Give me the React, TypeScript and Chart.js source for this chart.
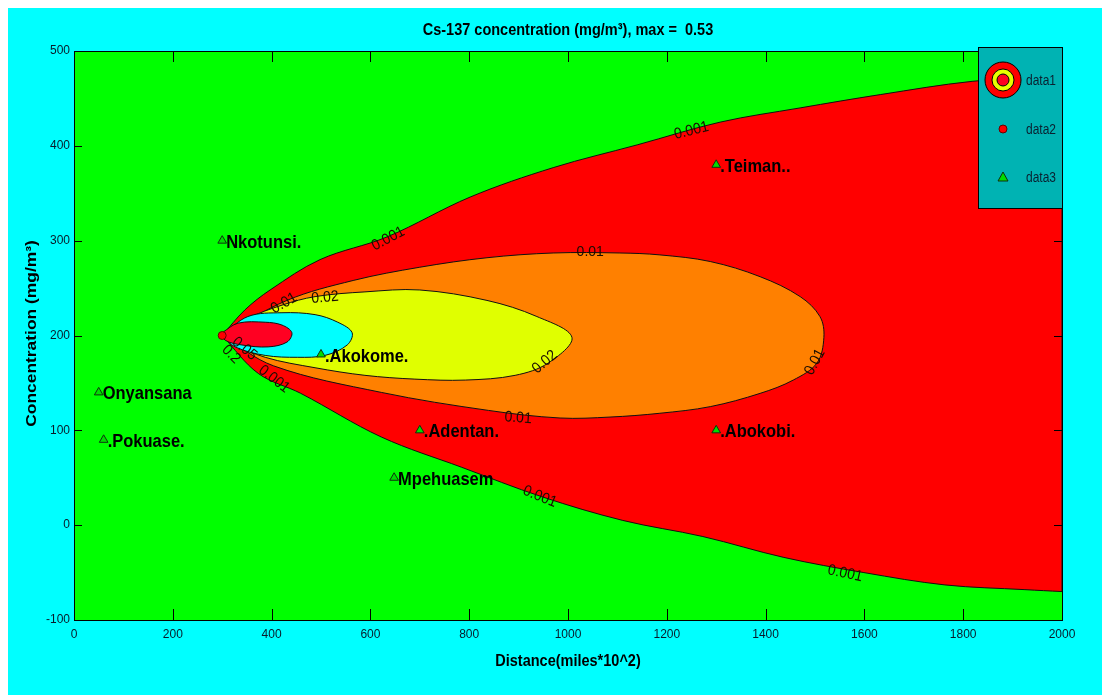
import React, { useEffect, useRef } from "react";
import { Chart, registerables } from "chart.js";
Chart.register(...registerables);

// ---- axis ticks ----
const xTickValues = [0, 200, 400, 600, 800, 1000, 1200, 1400, 1600, 1800, 2000];
const yTickValues = [-100, 0, 100, 200, 300, 400, 500];

// ---- contour 0.001 (outer red plume); corners at the right edge are repeated to keep them sharp ----
const c001X = [300, 346, 397, 498, 634, 802, 970, 1140, 1308, 1470, 1632, 1818, 2000, 2000, 2000, 2000, 1925, 1763, 1599, 1437, 1273, 1111, 947, 785, 622, 459, 373, 300];
const c001Y = [200, 227, 248, 280, 304, 346, 377, 401, 425, 440, 454, 468, 474, 474, -70, -70, -68, -63, -50, -34, -12, 5, 30, 61, 93, 139, 160, 200];

// ---- contour 0.01 (orange) ----
const c01X = [300, 431, 565, 700, 836, 970, 1105, 1186, 1288, 1389, 1470, 1510, 1518, 1504, 1456, 1389, 1288, 1186, 1085, 984, 839, 622, 404, 300];
const c01Y = [200, 237, 258, 272, 282, 287, 287, 285, 278, 262, 241, 220, 198, 171, 153, 139, 125, 118, 114, 113, 121, 140, 168, 200];

// ---- contour 0.02 (yellow) ----
const c02X = [300, 352, 421, 488, 589, 700, 836, 937, 1008, 960, 893, 792, 690, 589, 488, 387, 320, 300];
const c02Y = [200, 218, 232, 241, 246, 248, 237, 220, 198, 171, 158, 153, 154, 158, 166, 177, 192, 200];

// ---- contour 0.05 (cyan) ----
const c05X = [300, 352, 421, 488, 534, 563, 553, 508, 453, 387, 326, 300];
const c05Y = [200, 220, 224, 222, 214, 203, 190, 179, 177, 179, 188, 200];

// ---- contour 0.2 (inner red) ----
const c2X = [300, 332, 387, 421, 441, 431, 393, 340, 306, 300];
const c2Y = [203, 213, 214, 211, 203, 193, 188, 190, 195, 203];

// ---- release point (data2) ----
const sourceX = [300];
const sourceY = [200];

// ---- receptor stations (data3) ----
const stationNames = ["Nkotunsi.", ".Akokome.", "Onyansana", ".Pokuase.", ".Adentan.", "Mpehuasem", ".Abokobi.", ".Teiman.."];
const stationX = [300, 500, 50, 60, 700, 648, 1300, 1300];
const stationY = [300, 180, 140, 90, 100, 50, 100, 380];

// ---- contour labels ----
const contourLabelText = ["0.001", "0.001", "0.01", "0.02", "0.01", "0.02", "0.01", "0.01", "0.001", "0.001", "0.001", "0.05", "0.2"];
const contourLabelX = [636, 1250, 1045, 508, 425, 953, 899, 1500, 943, 1561, 405, 345, 318];
const contourLabelY = [302, 416, 288, 240, 234, 172, 113, 172, 30, -51, 154, 186, 180];
const contourLabelAngle = [-28, -14, 0, -5, -30, -40, 4, -62, 22, 12, 38, 40, 45];

const legendLabels = ["data1", "data2", "data3"];

const titleText = "Cs-137 concentration (mg/m³), max =  0.53";
const xTitle = "Distance(miles*10^2)";
const yTitle = "Concentration (mg/m³)";

const pts = (xs: number[], ys: number[]) => xs.map((x, i) => ({ x, y: ys[i] }));

function stretchText(ctx: CanvasRenderingContext2D, text: string, x: number, y: number, sy: number, align: CanvasTextAlign, font: string, color: string) {
  ctx.save();
  ctx.translate(x, y);
  ctx.scale(1, sy);
  ctx.font = font;
  ctx.fillStyle = color;
  ctx.textAlign = align;
  ctx.textBaseline = "middle";
  ctx.fillText(text, 0, 0);
  ctx.restore();
}

const decorPlugin = {
  id: "decor",
  beforeDraw(chart: any) {
    const { ctx, width, height, chartArea: a } = chart;
    ctx.save();
    ctx.fillStyle = "#00FFFF";
    ctx.fillRect(0, 0, width, height);
    ctx.fillStyle = "#00FF00";
    ctx.fillRect(a.left, a.top, a.right - a.left, a.bottom - a.top);
    ctx.restore();
  },
  afterDatasetsDraw(chart: any) {
    const { ctx, chartArea: a, scales } = chart;
    const xs = scales.x, ys = scales.y;
    // contour labels
    ctx.save();
    ctx.beginPath();
    ctx.rect(a.left, a.top, a.right - a.left, a.bottom - a.top);
    ctx.clip();
    ctx.font = "14px 'Liberation Sans', Arial, sans-serif";
    ctx.fillStyle = "#1a0d00";
    ctx.textAlign = "center";
    ctx.textBaseline = "middle";
    contourLabelText.forEach((t, i) => {
      const px = xs.getPixelForValue(contourLabelX[i]);
      const py = ys.getPixelForValue(contourLabelY[i]);
      ctx.save();
      ctx.translate(px, py);
      ctx.rotate((contourLabelAngle[i] * Math.PI) / 180);
      ctx.scale(1, 1.1);
      ctx.fillText(t, 0, 0);
      ctx.restore();
    });
    ctx.restore();

    // station labels
    stationNames.forEach((n, i) => {
      const px = xs.getPixelForValue(stationX[i]);
      const py = ys.getPixelForValue(stationY[i]);
      stretchText(ctx, n, px + 4, py + 2, 1.12, "left", "bold 16.5px 'Liberation Sans', Arial, sans-serif", "#000");
    });

    // axes box and inward ticks
    ctx.save();
    ctx.strokeStyle = "#000";
    ctx.lineWidth = 1;
    ctx.beginPath();
    xTickValues.forEach((v) => {
      const px = Math.round(xs.getPixelForValue(v)) + 0.5;
      ctx.moveTo(px, a.bottom);
      ctx.lineTo(px, a.bottom - 11);
      ctx.moveTo(px, a.top);
      ctx.lineTo(px, a.top + 11);
    });
    yTickValues.forEach((v) => {
      const py = Math.round(ys.getPixelForValue(v)) + 0.5;
      ctx.moveTo(a.left, py);
      ctx.lineTo(a.left + 8, py);
      ctx.moveTo(a.right, py);
      ctx.lineTo(a.right - 8, py);
    });
    ctx.stroke();
    ctx.strokeRect(Math.round(a.left) + 0.5, Math.round(a.top) + 0.5, Math.round(a.right - a.left), Math.round(a.bottom - a.top));
    ctx.restore();

    // legend
    const lx = 970, ly = 39, lw = 84, lh = 161;
    ctx.save();
    ctx.fillStyle = "#00B3B3";
    ctx.fillRect(lx, ly, lw, lh);
    ctx.strokeStyle = "#000";
    ctx.lineWidth = 1;
    ctx.strokeRect(lx + 0.5, ly + 0.5, lw, lh);
    const sx = 995;
    const rowY = [72, 121, 169];
    const circ = (r: number, c: string) => {
      ctx.beginPath();
      ctx.arc(sx, rowY[0], r, 0, Math.PI * 2);
      ctx.fillStyle = c;
      ctx.fill();
      ctx.stroke();
    };
    circ(18, "#FF0000");
    circ(11, "#E8FF00");
    circ(6, "#FF0022");
    ctx.beginPath();
    ctx.arc(sx, rowY[1], 4, 0, Math.PI * 2);
    ctx.fillStyle = "#FF0000";
    ctx.fill();
    ctx.strokeStyle = "#600";
    ctx.stroke();
    ctx.beginPath();
    ctx.moveTo(sx, rowY[2] - 5);
    ctx.lineTo(sx + 5, rowY[2] + 4);
    ctx.lineTo(sx - 5, rowY[2] + 4);
    ctx.closePath();
    ctx.fillStyle = "#00DD00";
    ctx.fill();
    ctx.strokeStyle = "#103010";
    ctx.stroke();
    legendLabels.forEach((t, i) => {
      stretchText(ctx, t, 1018, rowY[i] + 1, 1.15, "left", "12px 'Liberation Sans', Arial, sans-serif", "#0a2030");
    });
    ctx.restore();

    // titles
    const cx = (a.left + a.right) / 2;
    stretchText(ctx, titleText, cx, 22, 1.2, "center", "bold 14.5px 'Liberation Sans', Arial, sans-serif", "#000");
    stretchText(ctx, xTitle, cx, 653, 1.2, "center", "bold 14.5px 'Liberation Sans', Arial, sans-serif", "#000");
    ctx.save();
    ctx.translate(24, (a.top + a.bottom) / 2 - 2);
    ctx.rotate(-Math.PI / 2);
    ctx.scale(1.2, 1);
    ctx.font = "bold 14.5px 'Liberation Sans', Arial, sans-serif";
    ctx.fillStyle = "#000";
    ctx.textAlign = "center";
    ctx.textBaseline = "middle";
    ctx.fillText(yTitle, 0, 0);
    ctx.restore();
  },
};

export default function App() {
  const ref = useRef<HTMLCanvasElement>(null);
  useEffect(() => {
    if (!ref.current) return;
    const edge = "#101010";
    const region = (label: string, xs: number[], ys: number[], color: string, order: number) => ({
      type: "line" as const,
      label,
      data: pts(xs, ys),
      borderColor: edge,
      borderWidth: 1,
      backgroundColor: color,
      fill: "shape",
      pointRadius: 0,
      tension: 0.35,
      order,
    });
    const tickFont = { family: "'Liberation Sans', Arial, sans-serif", size: 12 };
    const chart = new Chart(ref.current, {
      type: "line",
      data: {
        datasets: [
          region("0.001", c001X, c001Y, "#FF0000", 10),
          region("0.01", c01X, c01Y, "#FF8000", 9),
          region("0.02", c02X, c02Y, "#E0FF00", 8),
          region("0.05", c05X, c05Y, "#00FFFF", 7),
          region("0.2", c2X, c2Y, "#FF0022", 6),
          {
            type: "scatter",
            label: "data2",
            data: pts(sourceX, sourceY),
            pointRadius: 4,
            pointBackgroundColor: "#FF0000",
            pointBorderColor: "#600",
            pointBorderWidth: 1,
            order: 2,
          },
          {
            type: "scatter",
            label: "data3",
            data: pts(stationX, stationY),
            pointStyle: "triangle",
            pointRadius: 5,
            pointBackgroundColor: "#00DD00",
            pointBorderColor: "#103010",
            pointBorderWidth: 1,
            order: 1,
          },
        ] as any,
      },
      options: {
        animation: false,
        responsive: false,
        events: [],
        layout: { padding: { left: 0, right: 40, top: 43, bottom: 0 } },
        plugins: { legend: { display: false }, tooltip: { enabled: false }, title: { display: false } },
        scales: {
          x: {
            type: "linear",
            min: 0,
            max: 2000,
            afterFit: (s: any) => { s.height = 75; },
            afterBuildTicks: (s: any) => { s.ticks = xTickValues.map((v) => ({ value: v })); },
            grid: { display: false, drawTicks: false },
            border: { display: false },
            ticks: { padding: 7, color: "#0a1a2a", font: tickFont, maxRotation: 0, autoSkip: false, callback: (v: any) => String(v) },
          },
          y: {
            type: "linear",
            min: -100,
            max: 500,
            afterFit: (s: any) => { s.width = 66; },
            afterBuildTicks: (s: any) => { s.ticks = yTickValues.map((v) => ({ value: v })); },
            grid: { display: false, drawTicks: false },
            border: { display: false },
            ticks: { padding: 4, color: "#0a1a2a", font: tickFont, autoSkip: false, callback: (v: any) => String(v) },
          },
        },
      } as any,
      plugins: [decorPlugin],
    });
    return () => chart.destroy();
  }, []);
  return <canvas ref={ref} width={1094} height={687} style={{ display: "block" }} />;
}
